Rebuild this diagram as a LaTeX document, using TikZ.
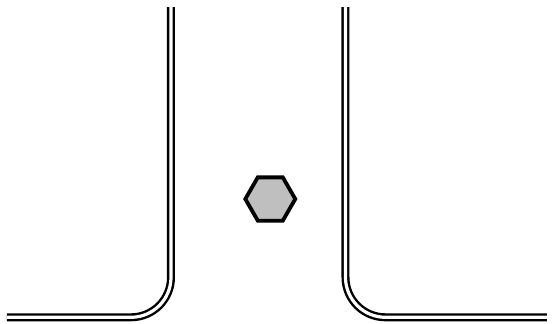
\documentclass[tikz,border=0pt]{standalone}
\usetikzlibrary{shapes.geometric, positioning}

\begin{document}
\begin{tikzpicture}[
    x=0.5pt, y=-0.5pt,
    curb/.style={draw, double=white, line width=1.2pt, double distance=1.6pt, rounded corners=20pt},
    hexa/.style={draw, regular polygon, regular polygon sides=6, minimum size=25pt, inner sep=0pt, fill=black!25, line width=1.9pt}
]
\useasboundingbox (0,0) rectangle (554,323);

% Bordes
\draw [curb] (171,7) -- (171,317.3) -- (7,317.3);
\draw [curb] (345.5,7) -- (345.5,317.3) -- (547,317.3);

% Obstaculo
\node (obst) [hexa] at (270.3,199) {};

\end{tikzpicture}
\end{document}
